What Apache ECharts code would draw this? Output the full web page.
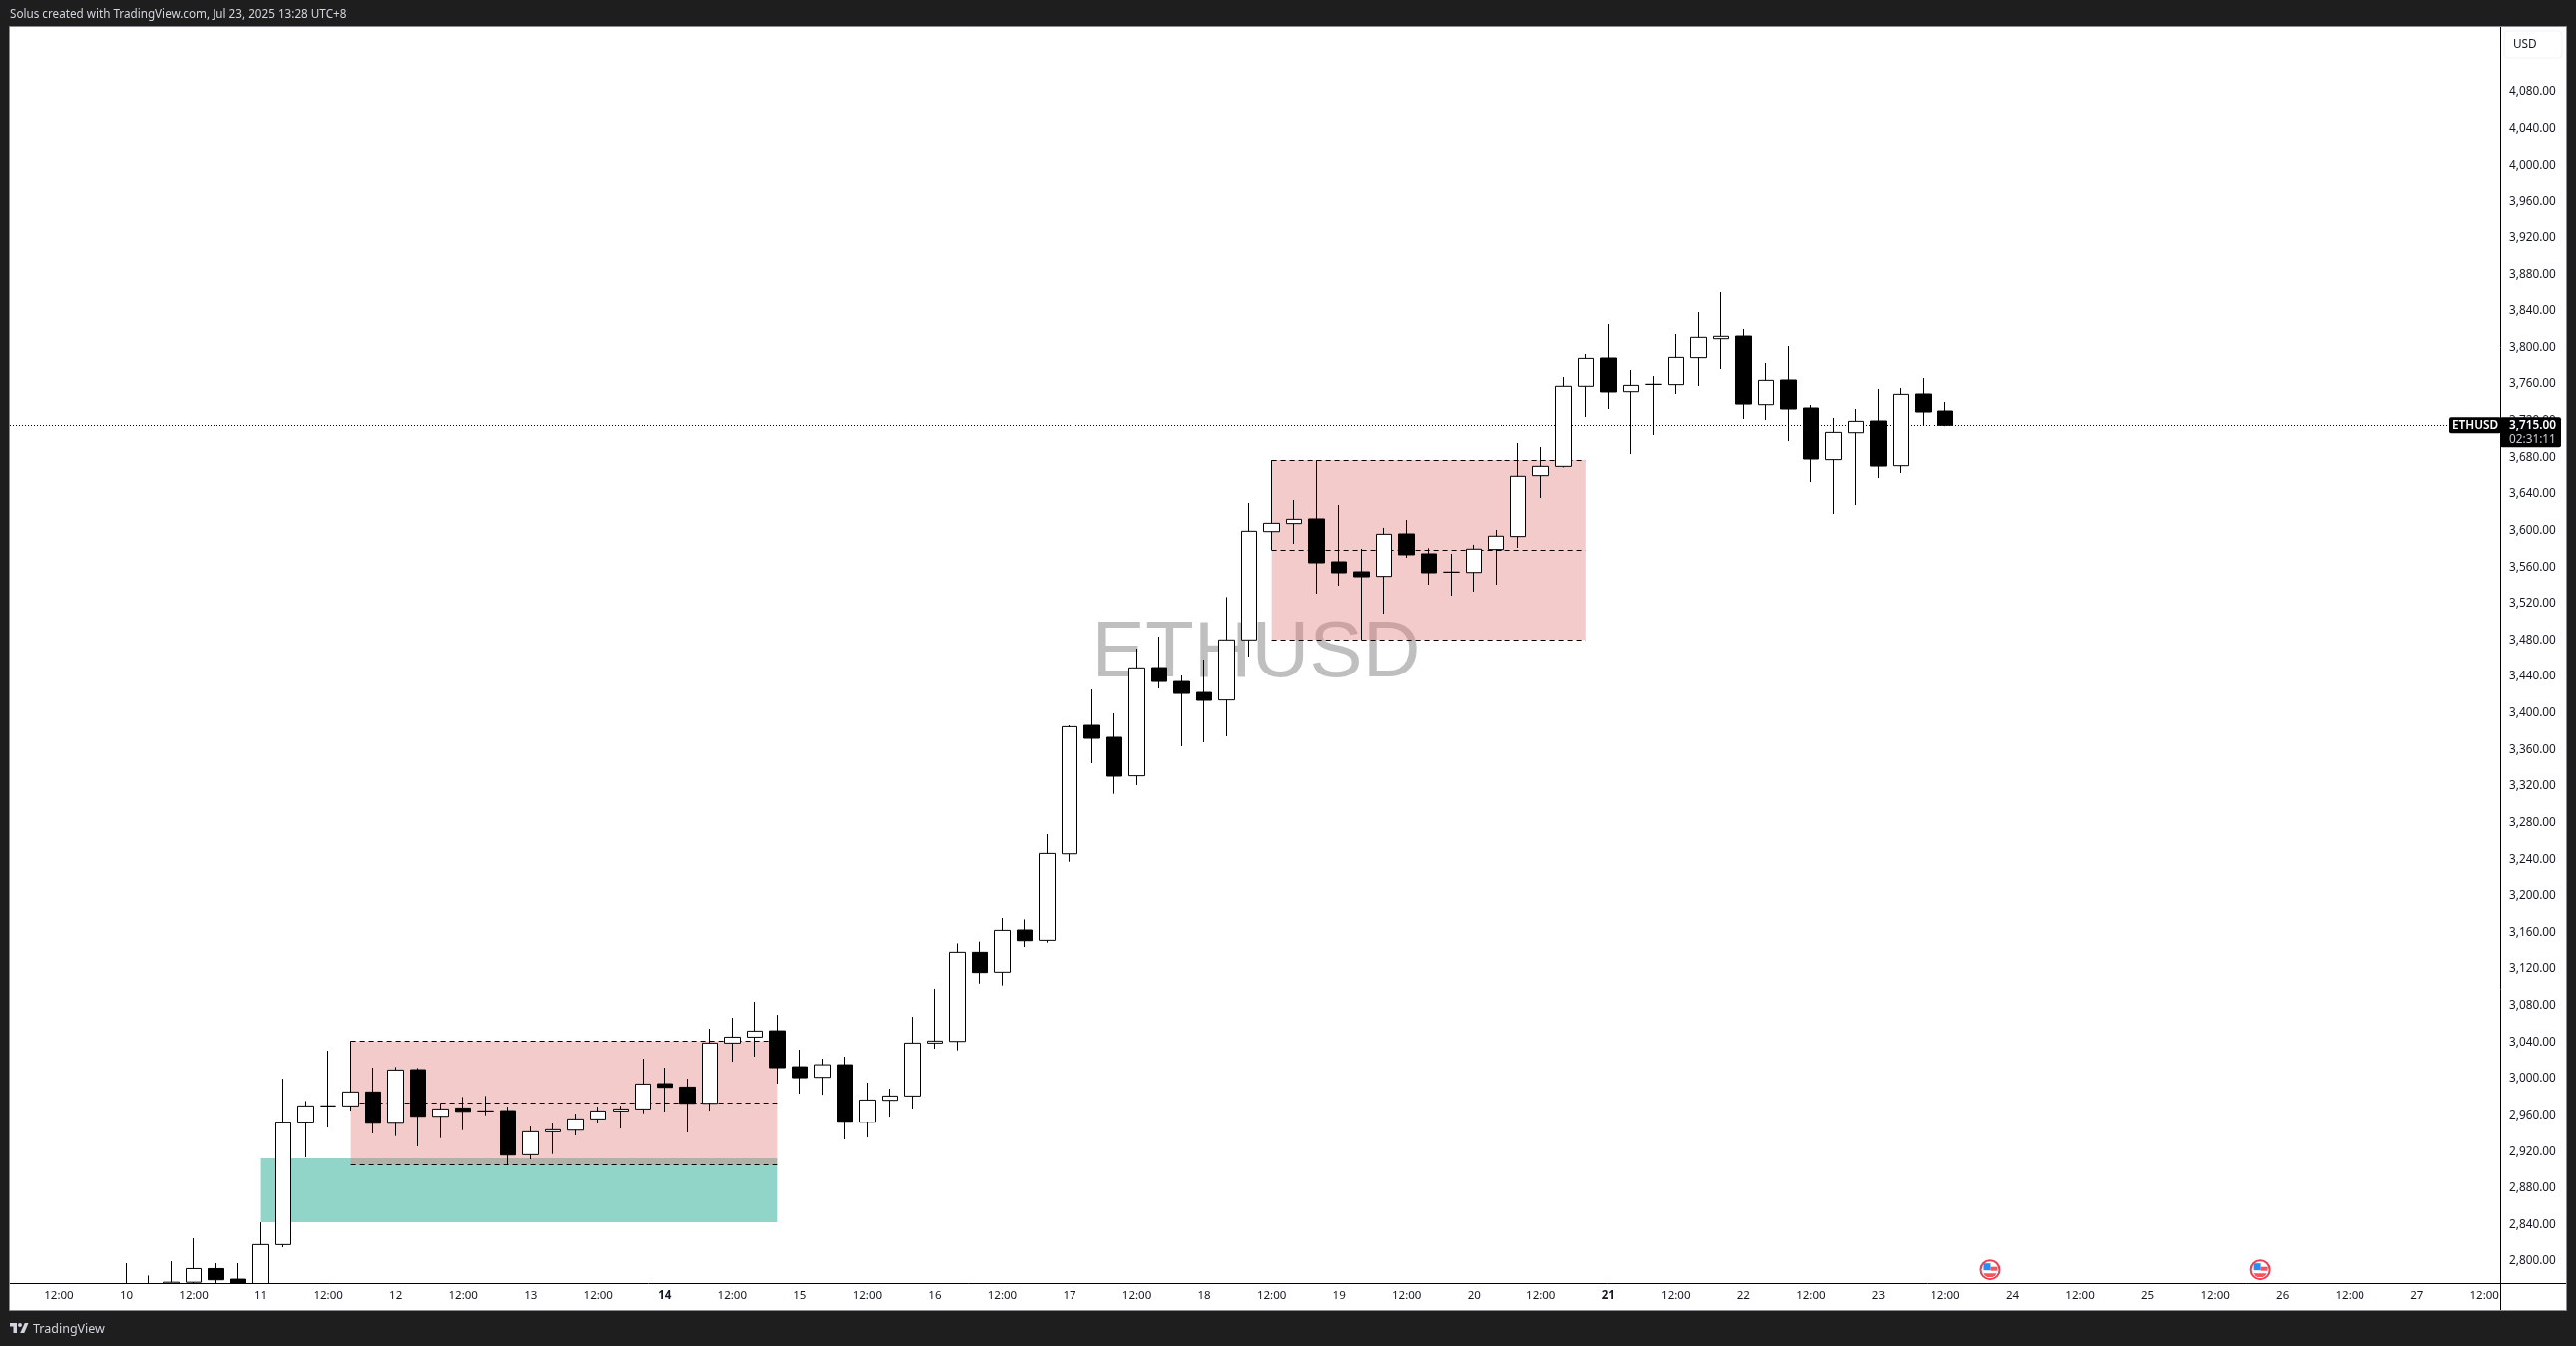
<!DOCTYPE html>
<html>
<head>
<meta charset="utf-8">
<style>html,body{margin:0;padding:0;background:#1e1e1e;}#chart{width:2582px;height:1349px;}</style>
<script src="https://cdn.jsdelivr.net/npm/echarts@6/dist/echarts.min.js"></script>
</head>
<body>
<div id="chart"></div>
<script>
// 4-hour bars; bar 0 opens on the 10th at 00:00 (UTC+8)
var opens  = [2772,2768,2775,2777,2792,2780.4,2772,2818.3,2951.5,2970.1,2970.1,2985.4,2951.1,3009.8,2958.8,2967.9,2964.6,2965,2916.6,2941.7,2943.5,2955.9,2964.6,2966.8,2994.5,2990.8,2973,3038.9,3045.4,3052.3,3013,3001.4,3015.2,2952.2,2976.3,2981,3038.9,3040.7,3138.3,3116.5,3162.7,3151.4,3246,3386.6,3373.5,3331.3,3449.9,3434.6,3422.6,3414.3,3480.2,3598.8,3607.6,3612.7,3565.7,3554.8,3549.7,3596.3,3574.5,3554.4,3554,3579.2,3593.4,3660,3670.2,3757.6,3788.5,3751.7,3759.7,3759.4,3788.9,3809.6,3812.5,3737.5,3764.5,3733.9,3677.5,3706.9,3719.7,3670.9,3749.2,3730.6];
var closes = [2775,2772,2777,2792,2779.7,2772,2818.3,2951.5,2970.1,2970.1,2985.4,2951.1,3009.4,2958.8,2966.8,2964.2,2964.6,2916.2,2941.7,2943.9,2955.9,2964.6,2966.8,2994.1,2990.5,2973,3038.9,3045.4,3052,3012,3001,3015.2,2952.2,2976.6,2981,3038.9,3041.1,3138.3,3116.1,3162.3,3151,3246.4,3385.1,3372.4,3330.9,3449.6,3434.6,3421.5,3413.9,3480.2,3599.2,3607.9,3612.3,3564.6,3553.7,3549.3,3595.9,3573.4,3553.7,3554.4,3579.6,3593.8,3659.3,3670.2,3757.6,3788.1,3751.4,3758.6,3759.7,3789.2,3811.1,3812.2,3738.2,3764.1,3732.8,3678.2,3707.3,3719.3,3670.5,3748.8,3729.5,3715];
var lows   = [2765,2760,2770,2770,2775,2765,2765,2815.3,2913.6,2946.4,2965,2939.9,2937,2925.7,2934.8,2943.5,2959.9,2905.6,2911.5,2917.3,2937.7,2950.8,2945.3,2962.1,2963.9,2941,2965,3018.5,3024,2994.5,2983.5,2982.4,2933.3,2935.5,2958.4,2967.2,3032.7,3030.9,3104,3101.9,3144.1,3148.9,3237.3,3345.1,3311.6,3321.1,3427,3363.7,3368,3374.6,3462,3578.5,3585.4,3530.8,3539.5,3480.2,3508.9,3570.1,3540.6,3528.6,3533,3540.6,3581,3635.6,3669,3724,3732.8,3683.6,3704.4,3749.2,3757.9,3776.5,3721.9,3720.8,3697.8,3653,3618.1,3627.9,3657.4,3662.9,3714.2,3714];
var highs  = [2797.9,2784.4,2800,2825.2,2797.9,2797.9,2842.6,2999.9,2975.5,3030.5,3041.1,3012,3012.7,3011.6,2973.3,2979.9,2981,2969.3,2947.5,2950.8,2961.7,2969.3,2970.4,3021.8,3012,2999.9,3054.5,3066.5,3084,3069.8,3031.6,3021.8,3024,2995.6,2989,3067.6,3098.2,3148,3150,3175.8,3174.3,3267.5,3386.6,3425.9,3399.7,3470.7,3483.8,3441.2,3458.7,3527.1,3630.2,3676.8,3633.4,3676.8,3628,3579.9,3602.9,3611.6,3580.6,3574.5,3584.3,3600.7,3695.7,3691.3,3767.7,3792.9,3825.6,3775.4,3768.8,3814.7,3838.7,3860.6,3820.2,3783,3801.6,3737.2,3723,3732.8,3754.6,3755.7,3766.6,3740.4];

var priceTicks = [2800,2840,2880,2920,2960,3000,3040,3080,3120,3160,3200,3240,3280,3320,3360,3400,3440,3480,3520,3560,3600,3640,3680,3720,3760,3800,3840,3880,3920,3960,4000,4040,4080];
var dayNumbers = [10,11,12,13,14,15,16,17,18,19,20,21,22,23,24,25,26,27];
var boldDays   = [14,21];
var barsPerDay = 6;
var lastPrice  = 3715;
var eventBars  = [83,95];

// zones: [fromBar, toBar, lowPrice, highPrice]
var tealZone   = [6,29,2842.6,2912.5];
var pinkZones  = [[10,29,2905.6,3041],[51,65,3480.2,3677]];
// dashed levels: [fromBar, toBar, price]
var dashedLevels = [[10,29,3041],[10,29,2973.3],[10,29,2905.6],[51,65,3676.8],[51,65,3578.5],[51,65,3480.2]];

var candles = opens.map(function(o,i){return [i,o,closes[i],lows[i],highs[i]];});

var tickLabels = {};
var xTicks = [-3];
tickLabels[-3] = '12:00';
dayNumbers.forEach(function(d,i){
  var k = i*barsPerDay;
  xTicks.push(k,k+barsPerDay/2);
  tickLabels[k] = boldDays.indexOf(d)>=0 ? '{b|'+d+'}' : String(d);
  tickLabels[k+barsPerDay/2] = '12:00';
});

var FONT = '"Noto Sans"';
var chart = echarts.init(document.getElementById('chart'),null,{renderer:'canvas',width:2582,height:1349});

var zoneAreas = [[{coord:[tealZone[0],tealZone[3]],itemStyle:{color:'#90d5c8',opacity:1}},{coord:[tealZone[1],tealZone[2]]}]];
pinkZones.forEach(function(z){
  zoneAreas.push([{coord:[z[0],z[3]],itemStyle:{color:'rgba(226,124,124,0.4)',opacity:1}},{coord:[z[1],z[2]]}]);
});
var lineData = dashedLevels.map(function(l){
  return [{coord:[l[0],l[2]],lineStyle:{type:[5,4],color:'#000',width:1}},{coord:[l[1],l[2]]}];
});
lineData.push([{coord:[-5.175,lastPrice],lineStyle:{type:[1,2],color:'#000',width:1}},{coord:[105.7,lastPrice]}]);

chart.setOption({
  animation:false,
  backgroundColor:'#1e1e1e',
  grid:{left:10,right:76,top:27,bottom:63,containLabel:false},
  xAxis:{
    type:'value',min:-5.175,max:105.7,scale:true,z:10,
    axisLine:{show:false},axisTick:{show:false},splitLine:{show:false},
    axisLabel:{customValues:xTicks,hideOverlap:false,margin:7,fontFamily:FONT,fontSize:11.5,color:'#131722',
      formatter:function(v){return tickLabels[v]||'';},
      rich:{b:{fontFamily:FONT,fontSize:11.5,fontWeight:'bold',color:'#131722'}}}
  },
  yAxis:{
    type:'value',position:'right',min:2776.1,max:4151.1,scale:true,z:10,
    axisLine:{show:false},axisTick:{show:false},splitLine:{show:false},
    axisLabel:{customValues:priceTicks,margin:9,fontFamily:FONT,fontSize:11.8,color:'#131722',align:'left',padding:[0,0,2,0],
      formatter:function(v){return v.toLocaleString('en-US',{minimumFractionDigits:2,maximumFractionDigits:2});}}
  },
  series:[{
    type:'candlestick',
    barWidth:16,
    clip:true,
    encode:{x:0,y:[1,2,3,4]},
    itemStyle:{color:'#ffffff',color0:'#000000',borderColor:'#000000',borderColor0:'#000000',borderColorDoji:'#000000',borderWidth:1},
    data:candles,
    markArea:{silent:true,z:1,data:zoneAreas},
    markLine:{silent:true,z:1,symbol:'none',label:{show:false},data:lineData}
  }]
});

var yLast = chart.convertToPixel({yAxisIndex:0},lastPrice);
var flags = eventBars.map(function(k){
  var cx = chart.convertToPixel({xAxisIndex:0},k), cy = 1272.7;
  return {type:'group',x:cx,y:cy,z:12,children:[
    {type:'circle',shape:{cx:0,cy:0,r:9.5},style:{fill:'#ffffff',stroke:'#f23f50',lineWidth:2},z:12},
    {type:'rect',shape:{x:-6.5,y:-6.5,width:7,height:7},style:{fill:'#2a8cf0'},z:13},
    {type:'rect',shape:{x:0.5,y:-3,width:7,height:4},style:{fill:'#f7525f'},z:13},
    {type:'polygon',shape:{points:[[-6.5,3.5],[6.5,3.5],[5,6],[2.5,7.3],[-2.5,7.3],[-5,6]]},style:{fill:'#f7525f'},z:13}
  ]};
});

function txt(t,x,y,fill,size,weight,family,align){
  return {type:'text',z:20,style:{text:t,x:x,y:y,fill:fill,font:(weight||'normal')+' '+size+'px '+(family||FONT),verticalAlign:'middle',align:align||'left'}};
}
function ln(x1,y1,x2,y2,c){
  return {type:'line',z:15,shape:{x1:x1,y1:y1,x2:x2,y2:y2},style:{stroke:c||'#000',lineWidth:1}};
}

chart.setOption({graphic:{elements:[
  {type:'rect',z:-5,shape:{x:9.5,y:26.5,width:2563,height:1287},style:{fill:'#ffffff',stroke:'#8a8d94',lineWidth:1}},
  {type:'rect',z:5,shape:{x:10,y:1287,width:2496,height:26},style:{fill:'#ffffff'}},
  {type:'text',z:0,style:{text:'ETHUSD',x:1259,y:656,fill:'rgba(0,0,0,0.25)',font:'normal 80px "Liberation Sans"',align:'center',verticalAlign:'middle'}},
  ln(10,1286.5,2572,1286.5),
  ln(2506.5,27,2506.5,1313),
  {type:'rect',z:14,shape:{x:2510,y:31,width:58,height:27,r:4},style:{fill:'#ffffff',stroke:'#f0f3fa',lineWidth:1}},
  txt('USD',2519,44.7,'#131722',11.8),
  txt('Solus created with TradingView.com, Jul 23, 2025 13:28 UTC+8',10,15,'#d1d4dc',11.7),
  {type:'polygon',z:20,shape:{points:[[10,1326],[17,1326],[17,1336],[13.5,1336],[13.5,1329.5],[10,1329.5]]},style:{fill:'#d1d4dc'}},
  {type:'circle',z:20,shape:{cx:20,cy:1328,r:2},style:{fill:'#d1d4dc'}},
  {type:'polygon',z:20,shape:{points:[[24.8,1326],[28.5,1326],[24.3,1336],[20.2,1336]]},style:{fill:'#d1d4dc'}},
  txt('TradingView',33,1332,'#d1d4dc',12.5),
  {type:'rect',z:18,shape:{x:2455,y:yLast-8,width:52,height:16,r:2},style:{fill:'#000000'}},
  {type:'rect',z:18,shape:{x:2506,y:yLast-8,width:61,height:30,r:2},style:{fill:'#000000'}},
  txt('ETHUSD',2481,yLast,'#ffffff',11.8,'600',FONT,'center'),
  txt('3,715.00',2515,yLast,'#ffffff',11.8,'600'),
  txt('02:31:11',2515,yLast+14,'#c9ccd4',11.8)
].concat(flags)}});
</script>
</body>
</html>
